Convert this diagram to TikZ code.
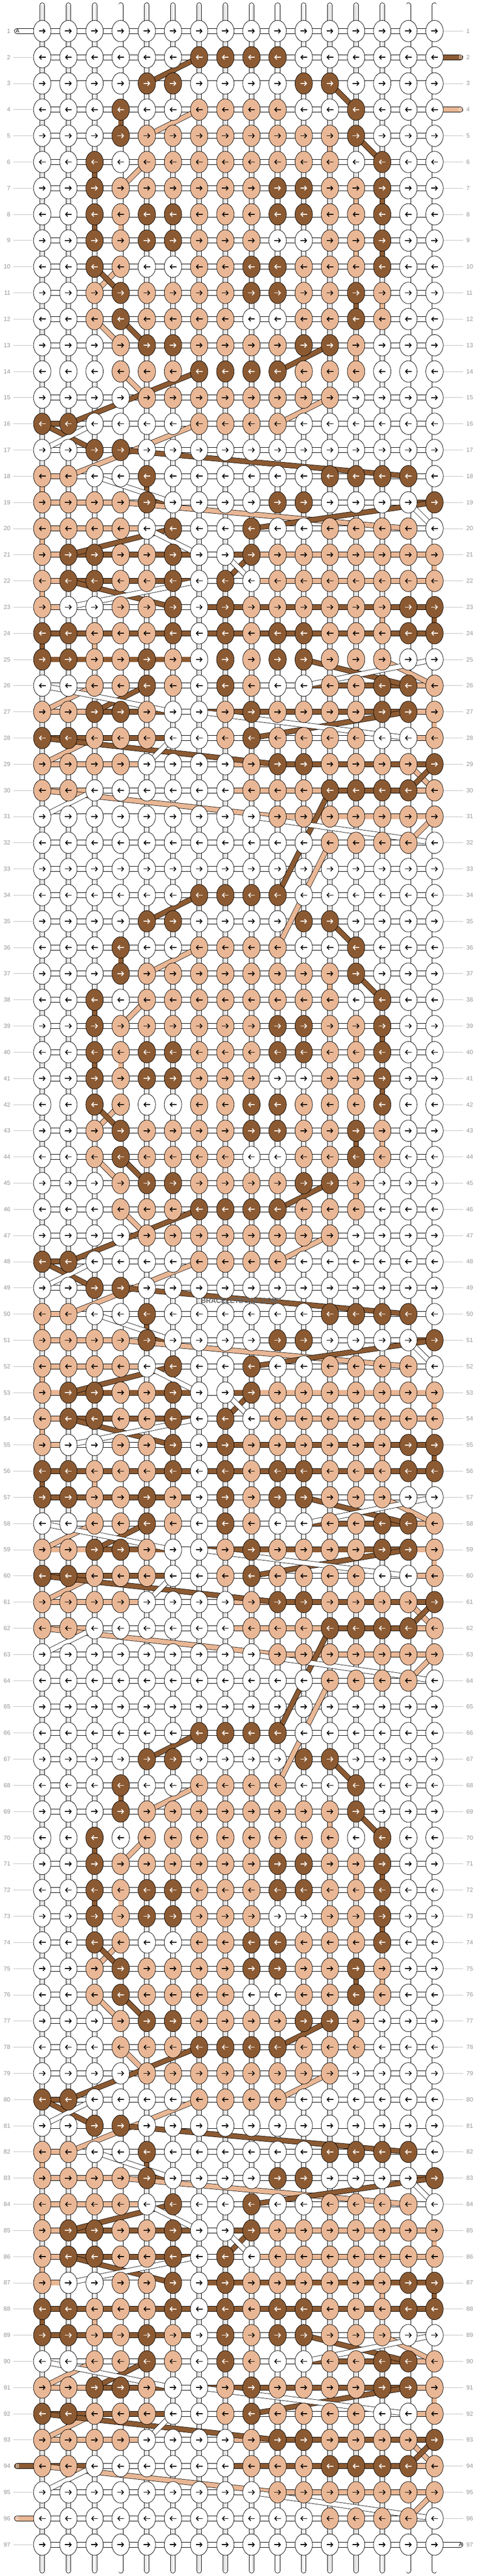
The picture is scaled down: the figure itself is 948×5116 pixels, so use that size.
\documentclass[tikz,border=0pt]{standalone}
\usepackage{fontspec}
\setmainfont{Liberation Sans}
\usetikzlibrary{shapes.geometric,arrows.meta}
\definecolor{bbrown}{RGB}{140,90,50}
\definecolor{btan}{RGB}{233,183,149}
\definecolor{numgray}{RGB}{150,150,150}
\definecolor{linegray}{RGB}{195,195,195}
\tikzset{
 knot/.style={ellipse,draw=black,line width=0.6pt,minimum width=26pt,minimum height=32pt,inner sep=0pt},
 knotW/.style={knot,fill=white},
 knotD/.style={knot,fill=bbrown},
 knotT/.style={knot,fill=btan},
 arr/.style={line width=1.3pt,-{Straight Barb[length=3pt,width=6.5pt]}},
 arrW/.style={draw=black},
 arrT/.style={draw=black},
 arrD/.style={draw=white},
 warpline/.style={draw=black,line width=0.7pt,double=white,double distance=6.3pt,line cap=round,
  postaction={draw=gray!45,line width=0.45pt,double=white,double distance=2pt,line cap=butt}},
 rowline/.style={draw=black,line width=0.7pt,double=white,double distance=7pt},
 spanA/.style={rowline},
 spanB/.style={rowline,double=bbrown},
 spanC/.style={rowline,double=btan},
 stripA/.style={spanA,line cap=round},
 stripB/.style={spanB,line cap=round},
 stripC/.style={spanC,line cap=round},
 turnB/.style={draw=black,line width=0.7pt,double=bbrown,double distance=6.3pt},
 turnC/.style={turnB,double=btan},
 diagA/.style={draw=black,line width=0.6pt,double=white,double distance=6.8pt},
 diagB/.style={diagA,double=bbrown},
 diagC/.style={diagA,double=btan},
 numlabel/.style={inner sep=0pt,text=numgray,font=\fontsize{9}{9}\selectfont},
 numline/.style={draw=linegray,line width=0.6pt},
 edgeletter/.style={inner sep=0pt,font=\fontsize{8}{8}\selectfont}
}
\begin{document}
\begin{tikzpicture}[x=0.75pt,y=-0.75pt]
\fill[white] (0,0) rectangle (948,5116);
\useasboundingbox (0,0) rectangle (948,5116);

\foreach \r in {1,...,97}{
 \foreach \cn in {1,...,16}{
  \coordinate (p-\r-\cn) at ({84+52*(\cn-1)},{61.7+52*(\r-1)});
 }
}
\foreach \cn in {1,...,16}{
 \coordinate (top-\cn) at ({84+52*(\cn-1)},10.2);
 \coordinate (bot-\cn) at ({84+52*(\cn-1)},5105.5);
}
\foreach \r in {1,94,96}{\coordinate (eL-\r) at (33.7,{61.7+52*(\r-1)});}
\foreach \r in {2,4,97}{\coordinate (eR-\r) at (915.3,{61.7+52*(\r-1)});}

% warps and rows
\foreach \cn in {1,...,16}{\draw[warpline] (top-\cn) -- (bot-\cn);}
\foreach \r in {1,...,97}{\draw[rowline] (p-\r-1) -- (p-\r-16);}

% weft ends
\draw[stripA] (eL-1) -- (p-1-1);
\draw[stripB] (p-2-16) -- (eR-2);
\draw[stripC] (p-4-16) -- (eR-4);
\draw[stripC] (eL-96) -- (p-96-1);
\draw[stripA] (p-97-16) -- (eR-97);

% wefts along the rows
\foreach \p/\aL/\aH/\bL/\bH/\cL/\cH in {16/3/16/1/2/7/10,18/3/16/5/15/1/2,19/6/15/5/16/1/4,
 20/5/16/6/9/1/15,21/7/8/2/9/1/16,22/7/9/2/8/1/16,23/2/7/6/16/1/14,24/7/7/1/16/3/14,
 25/7/16/1/11/3/14,26/1/11/5/15/3/16,27/6/7/3/15/1/16,28/6/15/1/9/3/16,29/5/8/10/16/1/15,
 30/3/8/12/15/1/16,31/1/9/0/0/10/16}{
 \foreach \k in {0,1,2}{
  \pgfmathtruncatemacro\r{\p+32*\k}
  \draw[spanC] (p-\r-\cL) -- (p-\r-\cH);
  \ifnum\bL>0 \draw[spanB] (p-\r-\bL) -- (p-\r-\bH); \fi
  \ifnum\r=94 \draw[stripB] (eL-94) -- (p-94-12); \fi
  \draw[spanA] (p-\r-\aL) -- (p-\r-\aH);
 }
}

% turns
\foreach \k in {0,1,2}{
 \foreach \p/\cn in {4/4,6/3,7/14,8/3,9/14,11/13,18/5,23/16,24/1}{
  \pgfmathtruncatemacro\r{\p+32*\k}
  \pgfmathtruncatemacro\s{\r+1}
  \draw[turnB] (p-\r-\cn) -- (p-\s-\cn);
 }
 \foreach \p/\cn in {5/12,7/13,8/4,9/13,11/14,13/13,18/1,20/1,21/16,22/1,23/14,24/3,27/16}{
  \pgfmathtruncatemacro\r{\p+32*\k}
  \pgfmathtruncatemacro\s{\r+1}
  \draw[turnC] (p-\r-\cn) -- (p-\s-\cn);
 }
}

% jumps between rows
\foreach \k in {0,1,2}{
 \foreach \pa/\ca/\pb/\cb in {4/7/5/5,6/5/7/4,10/4/11/3,12/3/13/4,14/4/15/5,15/12/16/10,16/7/18/2,
  19/4/20/15,25/14/26/16,26/3/27/1,28/3/29/1,29/15/30/16,30/1/31/10,31/16/32/15,32/12/36/10}{
  \pgfmathtruncatemacro\ra{\pa+32*\k}
  \pgfmathtruncatemacro\rb{\pb+32*\k}
  \ifnum\rb<98 \draw[diagC] (p-\ra-\ca) -- (p-\rb-\cb); \fi
 }
 \foreach \pa/\ca/\pb/\cb in {2/7/3/5,3/12/4/13,5/13/6/14,10/3/11/4,12/4/13/5,13/12/14/10,14/7/16/2,
  16/1/17/3,17/4/18/15,19/16/20/9,20/6/21/2,21/9/22/8,22/2/23/6,25/11/26/15,26/5/27/3,27/15/28/9,
  28/1/29/10,29/16/30/15,30/12/34/10}{
  \pgfmathtruncatemacro\ra{\pa+32*\k}
  \pgfmathtruncatemacro\rb{\pb+32*\k}
  \ifnum\rb<98 \draw[diagB] (p-\ra-\ca) -- (p-\rb-\cb); \fi
 }
 \foreach \pa/\ca/\pb/\cb in {16/3/17/1,18/3/19/6,19/15/20/16,20/5/21/7,21/8/22/9,22/7/23/2,
  25/16/26/11,26/1/27/6,27/7/28/15,28/6/29/5,30/3/31/1,31/9/32/16}{
  \pgfmathtruncatemacro\ra{\pa+32*\k}
  \pgfmathtruncatemacro\rb{\pb+32*\k}
  \draw[diagA] (p-\ra-\ca) -- (p-\rb-\cb);
 }
}

% knots
\foreach \p/\cells in {
 1/{W,W,W,W,W,W,W,W,W,W,W,W,W,W,W,W},
 2/{W,W,W,W,W,W,D,D,D,D,W,W,W,W,W,W},
 3/{W,W,W,W,D,D,W,W,W,W,D,D,W,W,W,W},
 4/{W,W,W,D,W,W,T,T,T,T,W,W,D,W,W,W},
 5/{W,W,W,D,T,T,T,T,T,T,T,T,D,W,W,W},
 6/{W,W,D,W,T,T,T,T,T,T,T,T,W,D,W,W},
 7/{W,W,D,T,T,T,T,T,T,D,D,T,T,D,W,W},
 8/{W,W,D,T,D,D,T,T,T,D,D,T,T,D,W,W},
 9/{W,W,D,T,D,D,T,T,T,W,W,T,T,D,W,W},
 10/{W,W,D,T,W,W,T,T,D,D,T,T,T,D,W,W},
 11/{W,W,T,D,T,T,T,T,D,D,T,T,D,T,W,W},
 12/{W,W,T,D,T,T,T,T,W,W,T,T,D,T,W,W},
 13/{W,W,W,T,D,D,T,T,T,T,D,D,T,W,W,W},
 14/{W,W,W,T,T,T,D,D,D,D,T,T,T,W,W,W},
 15/{W,W,W,W,T,T,T,T,T,T,T,T,W,W,W,W},
 16/{D,D,W,W,W,W,T,T,T,T,W,W,W,W,W,W},
 17/{W,W,D,D,W,W,W,W,W,W,W,W,W,W,W,W},
 18/{T,T,W,W,D,W,W,W,W,W,W,D,D,D,D,W},
 19/{T,T,T,T,D,W,W,W,W,D,D,W,W,W,W,D},
 20/{T,T,T,T,W,D,W,W,D,W,W,T,T,T,T,W},
 21/{T,D,D,T,T,D,W,W,D,T,T,T,T,T,T,T},
 22/{T,D,D,T,T,D,W,D,W,T,T,T,T,T,T,T},
 23/{T,W,W,T,T,D,W,D,T,T,T,T,T,T,D,D},
 24/{D,D,T,T,T,D,W,D,T,D,D,T,T,T,D,D},
 25/{D,D,T,T,D,T,W,D,T,D,D,T,T,T,W,W},
 26/{W,W,T,T,D,T,W,D,T,W,W,T,T,D,D,T},
 27/{T,T,D,D,T,W,W,T,D,T,T,T,T,D,D,T},
 28/{D,D,T,T,T,W,W,T,D,T,T,T,T,W,W,T},
 29/{T,T,T,T,W,W,W,W,T,D,D,T,T,T,T,D},
 30/{T,T,W,W,W,W,W,W,T,T,T,D,D,D,D,T},
 31/{W,W,W,W,W,W,W,W,W,T,T,T,T,T,T,T},
 32/{W,W,W,W,W,W,W,W,W,W,W,T,T,T,T,W}}{
 \foreach \k in {0,1,2,3}{
  \pgfmathtruncatemacro\r{\p+32*\k}
  \ifnum\r<98
   \foreach \col [count=\cn] in \cells{
    \node[knot\col] (k-\r-\cn) at (p-\r-\cn) {};
    \ifodd\r
     \draw[arr,arr\col] ([xshift=-5pt]k-\r-\cn.center) -- ([xshift=5pt]k-\r-\cn.center);
    \else
     \draw[arr,arr\col] ([xshift=5pt]k-\r-\cn.center) -- ([xshift=-5pt]k-\r-\cn.center);
    \fi
   }
  \fi
 }
}

% row numbers
\foreach \r in {1,...,97}{
 \node[numlabel,anchor=east] (nl-\r) at (21,{61.7+52*(\r-1)}) {\r};
 \node[numlabel,anchor=west] (nr-\r) at (927,{61.7+52*(\r-1)}) {\r};
}
\foreach \r in {2,...,93,95,97}{\draw[numline,shorten <=4.5pt] (nl-\r) -- (k-\r-1);}
\foreach \r in {1,3,5,6,...,96}{\draw[numline,shorten >=4.5pt] (k-\r-16) -- (nr-\r);}

\node[edgeletter,text=black] (wA-top) at (35,61.7) {A};
\node[edgeletter,text=white] (wB-top) at (916,113.7) {B};
\node[edgeletter,text=white] (wC-top) at (916,217.7) {C};
\node[edgeletter,text=white] (wB-bot) at (35,4897.7) {B};
\node[edgeletter,text=white] (wC-bot) at (35,5001.7) {C};
\node[edgeletter,text=black] (wA-bot) at (916,5053.7) {A};

\node[font=\fontsize{11}{11}\selectfont\bfseries,text=black!60,xscale=0.94,inner sep=0pt] (mark) at (476,2583) {BRACELETBOOK.COM};
\end{tikzpicture}
\end{document}
